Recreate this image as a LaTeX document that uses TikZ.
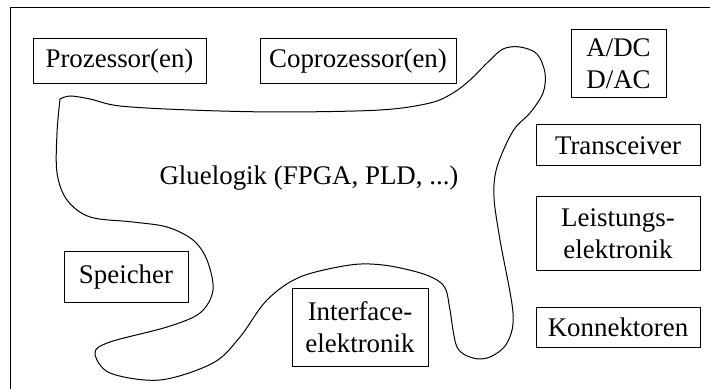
\documentclass[tikz,border=0pt]{standalone}
\usepackage{fontspec}
\setmainfont{Liberation Serif}
\begin{document}
\begin{tikzpicture}[x=0.5pt,y=-0.5pt,line width=0.5pt,
  every node/.style={font=\fontsize{13.45pt}{16pt}\selectfont},
  compbox/.style={draw, inner sep=0pt, align=center}]
\useasboundingbox (0,0) rectangle (710,389);
\clip (0,0) rectangle (710,389);
% outer frame (cut off at right and bottom)
\draw (10.5,420) -- (10.5,7.5) -- (740,7.5);
% components
\node[compbox, minimum width=86.5pt, minimum height=22.5pt] (proz) at (119.5,61.5) {Prozessor(en)};
\node[compbox, minimum width=98pt, minimum height=22.5pt] (copro) at (358,61.5) {Coprozessor(en)};
\node[compbox, minimum width=47.5pt, minimum height=34pt] (adc) at (618.5,64) {A/DC\\D/AC};
\node[compbox, minimum width=82pt, minimum height=20.5pt] (trans) at (618,145.5) {Transceiver};
\node[compbox, minimum width=82pt, minimum height=36.5pt] (leist) at (618,233.5) {Leistungs-\\elektronik};
\node[compbox, minimum width=82pt, minimum height=20pt] (konn) at (618,327) {Konnektoren};
\node[compbox, minimum width=62pt, minimum height=25pt] (speich) at (126,277) {Speicher};
\node[compbox, minimum width=68pt, minimum height=39pt] (inter) at (360,327) {Interface-\\elektronik};
% glue logic blob
\draw plot[smooth, tension=0.55] coordinates {
 (60,99) (70,96) (90,99) (120,106) (190,110) (280,112) (380,110) (430,103)
 (453,93) (470,80) (487,63) (503,49) (520,47) (537,54) (545,73) (543,93)
 (530,113) (513,131) (497,167)
 (494,197) (500,240) (513,313) (507,343) (490,357) (473,358) (457,347)
 (450,310) (446,290) (437,280) (417,272) (383,265) (350,265) (300,277)
 (267,300) (240,337) (213,363) (160,380) (110,373) (95,353) (110,342)
 (167,327) (200,313) (213,290) (207,260) (193,240) (167,227) (133,222)
 (90,217) (67,200) (57,173) (57,133) (60,99)};
\node[anchor=base] (glue) at (309,185) {Gluelogik (FPGA, PLD, ...)};
\end{tikzpicture}
\end{document}
